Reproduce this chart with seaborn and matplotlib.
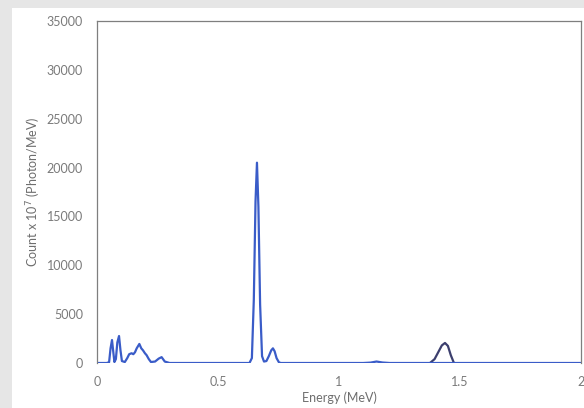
import matplotlib
matplotlib.use("Agg")
import matplotlib.pyplot as plt
from matplotlib.patches import Rectangle
import seaborn as sns
import pandas as pd

# Main spectrum (blue)
energy_main = [0.00, 0.04, 0.050, 0.056, 0.062, 0.067, 0.072, 0.078, 0.084, 0.091, 0.097, 0.103,
               0.115, 0.125, 0.133, 0.143, 0.150, 0.157, 0.164, 0.175, 0.183, 0.190, 0.198, 0.205,
               0.214, 0.223, 0.240, 0.255, 0.267, 0.280, 0.300,
               0.630, 0.640, 0.648, 0.655, 0.661, 0.667, 0.674, 0.682, 0.690, 0.700, 0.710,
               0.720, 0.727, 0.734, 0.742, 0.752, 0.760,
               1.100, 1.130, 1.155, 1.180, 1.210, 2.000]
count_main = [0, 0, 80, 1500, 2350, 1200, 100, 400, 2100, 2760, 1300, 200,
              100, 500, 900, 1000, 900, 1100, 1500, 1950, 1500, 1300, 1000, 800,
              400, 100, 150, 450, 600, 150, 0,
              0, 500, 6500, 16500, 20500, 16000, 6000, 700, 150, 200, 700,
              1300, 1500, 1200, 500, 60, 0,
              0, 40, 150, 50, 0, 0]

# Secondary peak (dark)
energy_peak = [1.376, 1.395, 1.410, 1.425, 1.438, 1.450, 1.462, 1.475]
count_peak = [0, 400, 1100, 1800, 2050, 1750, 800, 0]

df_main = pd.DataFrame({"Energy": energy_main, "Count": count_main})
df_peak = pd.DataFrame({"Energy": energy_peak, "Count": count_peak})

x_ticks = [0, 0.5, 1, 1.5, 2]
x_tick_labels = ["0", "0.5", "1", "1.5", "2"]
y_ticks = [0, 5000, 10000, 15000, 20000, 25000, 30000, 35000]

sns.set_theme(style="white")
plt.rcParams["font.family"] = ["Lato", "DejaVu Sans"]

fig = plt.figure(figsize=(5.84, 4.08), dpi=100)
fig.patch.set_facecolor("#e6e6e6")
bg = Rectangle((12 / 584, 0), 1 - 12 / 584, 1 - 8 / 408,
               transform=fig.transFigure, facecolor="white", edgecolor="none", zorder=-10)
fig.add_artist(bg)

ax = fig.add_axes([97 / 584, 1 - 363 / 408, (581 - 97) / 584, (363 - 21) / 408])
ax.set_zorder(5)
ax.set_facecolor("white")

sns.lineplot(data=df_peak, x="Energy", y="Count", ax=ax, color="#3c3f6e", lw=1.6)
sns.lineplot(data=df_main, x="Energy", y="Count", ax=ax, color="#3a5cc8", lw=1.6)

ax.set_xlim(0, 2)
ax.set_ylim(0, 35000)
ax.set_xticks(x_ticks)
ax.set_xticklabels(x_tick_labels)
ax.set_yticks(y_ticks)
ax.set_yticklabels([str(v) for v in y_ticks])
ax.tick_params(axis="both", length=0, labelsize=9, labelcolor="#7a7a7a")
ax.tick_params(axis="y", pad=10)
ax.tick_params(axis="x", pad=9)

for side in ["left", "top", "right"]:
    ax.spines[side].set_color("#7f7f7f")
    ax.spines[side].set_linewidth(0.9)
ax.spines["bottom"].set_visible(False)

ax.set_xlabel("Energy (MeV)", fontsize=9, color="#6e6e6e", labelpad=3)
ax.set_ylabel("Count x 10$^7$ (Photon/MeV)", fontsize=9, color="#6e6e6e", labelpad=3)

fig.savefig("out.png", dpi=100, facecolor=fig.get_facecolor())
